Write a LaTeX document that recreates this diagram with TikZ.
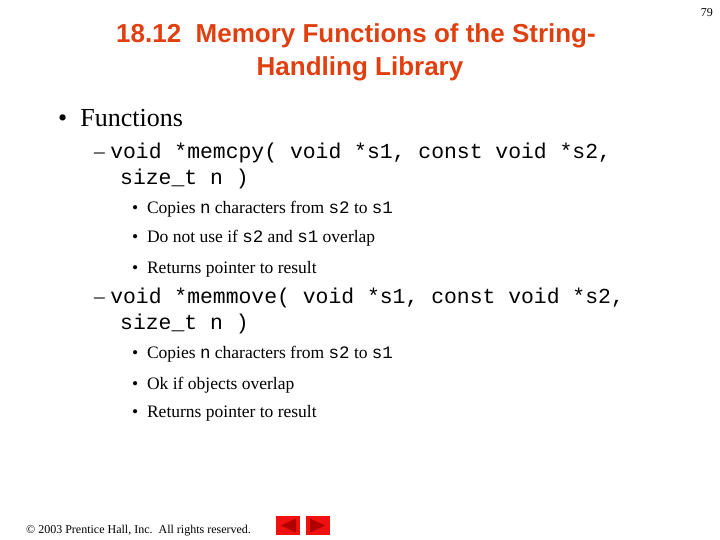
\documentclass[tikz,border=0pt]{standalone}
\usepackage{fontspec}
\setmainfont{Liberation Serif}
\setsansfont{Liberation Sans}
\setmonofont{Liberation Mono}
\definecolor{titlec}{HTML}{E04010}
\definecolor{btn}{HTML}{F01010}
\definecolor{tri}{HTML}{B00000}
\begin{document}
\begin{tikzpicture}[x=1pt,y=-1pt,
  tl/.style={anchor=base,font=\sffamily\bfseries\fontsize{26}{30}\selectfont,text=titlec,inner sep=0},
  lone/.style={anchor=base west,inner sep=0},
  big/.style={lone,font=\fontsize{26}{30}\selectfont},
  code/.style={lone,font=\ttfamily\fontsize{21.4}{24}\selectfont},
  sub/.style={lone,font=\fontsize{17.5}{20}\selectfont},
  btnbox/.style={fill=btn,draw=none}]
\useasboundingbox (0,0) rectangle (720,540);
\node[tl] (t1) at (356,43) {18.12\ \ Memory Functions of the String-};
\node[tl] (t2) at (360,76) {Handling Library};
\node[anchor=base east,inner sep=0,font=\fontsize{12}{14}\selectfont] (pg) at (713,17) {79};
\node[big] (b1) at (58,127) {\textbullet\ \ Functions};
\node[code] (c1) at (94,159) {\rmfamily --\ \ttfamily void *memcpy( void *s1, const void *s2,};
\node[code] (c2) at (120,185) {size\_t n )};
\node[sub] (s1) at (132,214) {\textbullet\ \ Copies \texttt{n} characters from \texttt{s2} to \texttt{s1}};
\node[sub] (s2) at (132,243) {\textbullet\ \ Do not use if \texttt{s2} and \texttt{s1} overlap};
\node[sub] (s3) at (132,273) {\textbullet\ \ Returns pointer to result};
\node[code] (c3) at (94,303) {\rmfamily --\ \ttfamily void *memmove( void *s1, const void *s2,};
\node[code] (c4) at (120,329) {size\_t n )};
\node[sub] (s4) at (132,358) {\textbullet\ \ Copies \texttt{n} characters from \texttt{s2} to \texttt{s1}};
\node[sub] (s5) at (132,389) {\textbullet\ \ Ok if objects overlap};
\node[sub] (s6) at (132,417) {\textbullet\ \ Returns pointer to result};
\node[lone,font=\fontsize{12}{14}\selectfont] (ft) at (26,533) {© 2003 Prentice Hall, Inc.\ \ All rights reserved.};
\fill[btn] (276,516) rectangle (300,535);
\fill[tri] (281,525.5) -- (296,518.5) -- (296,532.5) -- cycle;
\fill[btn] (306,516) rectangle (330,535);
\fill[tri] (325,525.5) -- (310,518.5) -- (310,532.5) -- cycle;
\end{tikzpicture}
\end{document}
